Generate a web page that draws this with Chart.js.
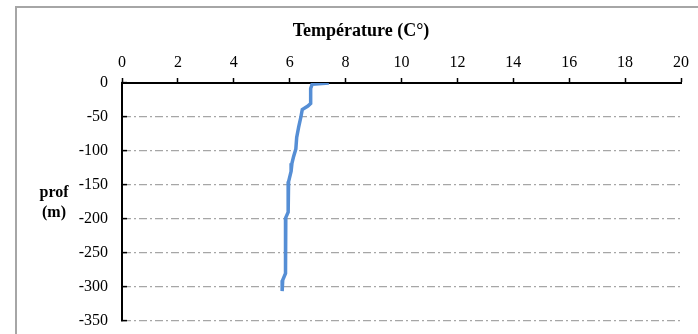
<!DOCTYPE html>
<html>
<head>
<meta charset="utf-8">
<style>
  html, body { margin: 0; padding: 0; background: #fff; }
  #c { display: block; }
</style>
<script src="https://cdn.jsdelivr.net/npm/chart.js@4/dist/chart.umd.min.js"></script>
</head>
<body>
<canvas id="c" width="698" height="334"></canvas>
<script>
// Data
const depths = [0, -2, -8, -30, -34, -39, -50, -65, -80, -97, -108, -118, -130, -145, -150, -190, -198, -280, -290, -306];
const temperatures = [7.4, 6.8, 6.75, 6.75, 6.65, 6.45, 6.4, 6.32, 6.25, 6.22, 6.14, 6.08, 6.05, 5.96, 5.95, 5.94, 5.86, 5.85, 5.75, 5.73];
const xTicks = [0, 2, 4, 6, 8, 10, 12, 14, 16, 18, 20];
const yTicks = [0, -50, -100, -150, -200, -250, -300, -350];
const chartTitle = 'Température (C°)';
const yTitleLines = ['prof', '(m)'];

const points = depths.map((d, i) => ({ x: temperatures[i], y: d }));

const decor = {
  id: 'decor',
  beforeDraw(chart) {
    const ctx = chart.ctx;
    ctx.save();
    ctx.fillStyle = '#fff';
    ctx.fillRect(0, 0, chart.width, chart.height);
    ctx.strokeStyle = '#a6a6a6';
    ctx.lineWidth = 2;
    ctx.beginPath();
    ctx.moveTo(16, chart.height + 5);
    ctx.lineTo(16, 7);
    ctx.lineTo(chart.width + 5, 7);
    ctx.stroke();
    ctx.restore();
  },
  afterDraw(chart) {
    const ctx = chart.ctx;
    ctx.save();
    ctx.fillStyle = '#000';
    ctx.textAlign = 'center';
    ctx.textBaseline = 'middle';
    ctx.font = 'bold 18px "Liberation Serif", "Times New Roman", serif';
    ctx.fillText(chartTitle, 361, 31);
    ctx.font = 'bold 16px "Liberation Serif", "Times New Roman", serif';
    ctx.fillText(yTitleLines[0], 54, 193);
    ctx.fillText(yTitleLines[1], 54, 213);
    ctx.restore();
  }
};

new Chart(document.getElementById('c'), {
  type: 'scatter',
  data: {
    datasets: [{
      data: points,
      showLine: true,
      borderColor: '#558ed5',
      backgroundColor: '#558ed5',
      borderWidth: 3.5,
      pointRadius: 0,
      pointHoverRadius: 0,
      tension: 0,
      fill: false
    }]
  },
  options: {
    responsive: false,
    animation: false,
    devicePixelRatio: 1,
    layout: { padding: { top: 0, left: 0, right: 17, bottom: 13 } },
    plugins: { legend: { display: false }, tooltip: { enabled: false }, title: { display: false } },
    scales: {
      x: {
        type: 'linear',
        position: 'top',
        min: 0, max: 20,
        afterBuildTicks(scale) { scale.ticks = xTicks.map(v => ({ value: v })); },
        afterFit(scale) { scale.height = 83; scale.paddingLeft = 0; scale.paddingRight = 0; },
        ticks: {
          color: '#000',
          padding: 6,
          maxRotation: 0,
          font: { family: '"Liberation Serif", "Times New Roman", serif', size: 16 }
        },
        grid: {
          display: true,
          drawOnChartArea: false,
          drawTicks: true,
          tickLength: 5,
          tickColor: '#000',
          tickWidth: 1.5
        },
        border: { display: true, color: '#000', width: 2 }
      },
      y: {
        type: 'linear',
        position: 'left',
        min: -350, max: 0,
        afterBuildTicks(scale) { scale.ticks = yTicks.slice().reverse().map(v => ({ value: v })); },
        afterFit(scale) { scale.width = 122; scale.paddingTop = 0; scale.paddingBottom = 0; },
        ticks: {
          color: '#000',
          padding: 19,
          font: { family: '"Liberation Serif", "Times New Roman", serif', size: 16 }
        },
        grid: {
          display: true,
          drawOnChartArea: true,
          drawTicks: true,
          tickLength: -5,
          tickColor: '#000',
          tickWidth: 1.5,
          lineWidth: 1.2,
          color: (ctx) => (ctx.tick && ctx.tick.value === 0) ? 'rgba(0,0,0,0)' : '#a6a6a6'
        },
        border: { display: true, color: '#000', width: 2, dash: [8, 3, 2, 3] }
      }
    }
  },
  plugins: [decor]
});
</script>
</body>
</html>
